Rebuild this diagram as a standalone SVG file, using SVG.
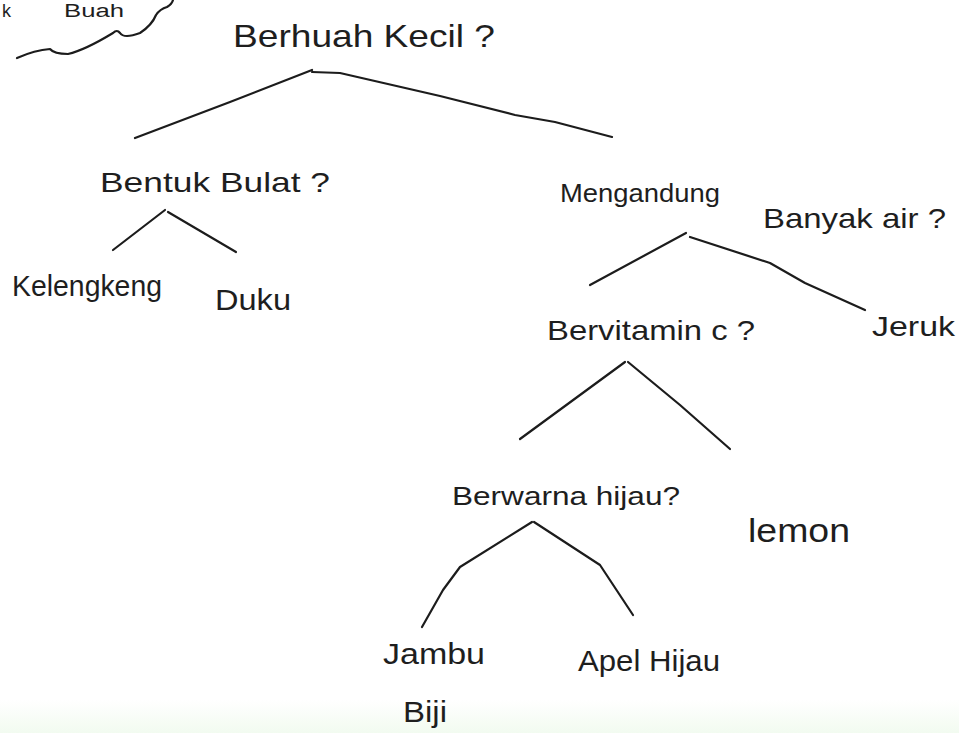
<svg xmlns="http://www.w3.org/2000/svg" width="959" height="733" viewBox="0 0 959 733">
<defs>
<linearGradient id="bg" x1="0" y1="0" x2="0" y2="1">
<stop offset="0" stop-color="#ffffff"/>
<stop offset="1" stop-color="#f2fbf0"/>
</linearGradient>
<style>
.t{font-family:"Liberation Sans","DejaVu Sans",sans-serif;fill:#1e1e1e}
.c{fill:none;stroke:#1c1c1c;stroke-width:2.2;stroke-linecap:round;stroke-linejoin:round}
</style>
</defs>
<rect width="959" height="733" fill="#ffffff"/>
<rect x="0" y="700" width="959" height="33" fill="url(#bg)"/>
<g id="cloud">
<path class="c" d="M17,58 Q35,50 50,49 Q54,54 68,54 Q85,50 113,33 Q117,29 120,33 Q124,39 140,33 Q152,25 156,15 Q160,9 167,7 Q172,4 173,0"/>
<text class="t" x="2" y="17" font-size="18">k</text>
<text class="t" x="64" y="17" font-size="18" textLength="60" lengthAdjust="spacingAndGlyphs">Buah</text>
</g>
<g id="connectors">
<polyline class="c" points="135,138 230,102 312,70"/>
<polyline class="c" points="312,72 340,73 440,96 515,115 555,122 612,137"/>
<polyline class="c" points="165,210 113,250"/>
<polyline class="c" points="168,212 236,252"/>
<polyline class="c" points="686,233 590,285"/>
<polyline class="c" points="690,237 770,263 805,283 865,310"/>
<polyline class="c" points="625,362 520,439"/>
<polyline class="c" points="628,362 680,405 730,449"/>
<polyline class="c" points="532,522 460,567 443,590 422,627"/>
<polyline class="c" points="534,522 600,565 633,615"/>
</g>
<g id="n-berbuah-kecil"><text class="t" x="233" y="47" font-size="32" textLength="262" lengthAdjust="spacingAndGlyphs">Berhuah Kecil ?</text></g>
<g id="n-bentuk-bulat"><text class="t" x="100" y="192" font-size="28" textLength="230" lengthAdjust="spacingAndGlyphs">Bentuk Bulat ?</text></g>
<g id="n-kelengkeng"><text class="t" x="12" y="296" font-size="30" textLength="150" lengthAdjust="spacingAndGlyphs">Kelengkeng</text></g>
<g id="n-duku"><text class="t" x="215" y="310" font-size="30" textLength="76" lengthAdjust="spacingAndGlyphs">Duku</text></g>
<g id="n-mengandung"><text class="t" x="560" y="202" font-size="26" textLength="160" lengthAdjust="spacingAndGlyphs">Mengandung</text><text class="t" x="763" y="228" font-size="28" textLength="183" lengthAdjust="spacingAndGlyphs">Banyak air ?</text></g>
<g id="n-bervitamin"><text class="t" x="547" y="340" font-size="28" textLength="208" lengthAdjust="spacingAndGlyphs">Bervitamin c ?</text></g>
<g id="n-jeruk"><text class="t" x="872" y="336" font-size="28" textLength="83" lengthAdjust="spacingAndGlyphs">Jeruk</text></g>
<g id="n-berwarna"><text class="t" x="452" y="505" font-size="26" textLength="228" lengthAdjust="spacingAndGlyphs">Berwarna hijau?</text></g>
<g id="n-lemon"><text class="t" x="748" y="542" font-size="34" textLength="102" lengthAdjust="spacingAndGlyphs">lemon</text></g>
<g id="n-jambu"><text class="t" x="383" y="664" font-size="30" textLength="102" lengthAdjust="spacingAndGlyphs">Jambu</text><text class="t" x="403" y="722" font-size="30" textLength="44" lengthAdjust="spacingAndGlyphs">Biji</text></g>
<g id="n-apel"><text class="t" x="578" y="671" font-size="30" textLength="142" lengthAdjust="spacingAndGlyphs">Apel Hijau</text></g>
</svg>
